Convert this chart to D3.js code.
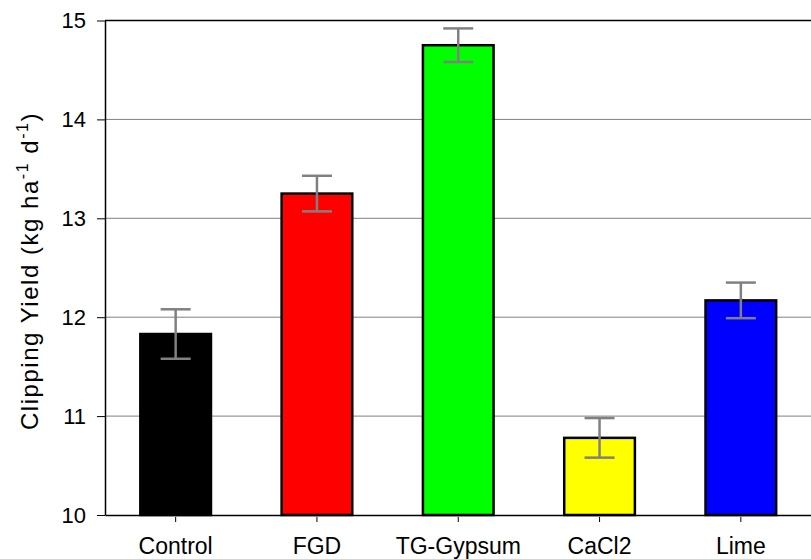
<!DOCTYPE html>
<html>
<head>
<meta charset="utf-8">
<script src="https://cdn.jsdelivr.net/npm/d3@7"></script>
<style>
  body { margin: 0; background: #fff; }
  svg text { font-family: "Liberation Sans", Arial, sans-serif; fill: #000; }
</style>
</head>
<body>
<svg id="chart" width="811" height="559"></svg>
<script>
const categories = ["Control", "FGD", "TG-Gypsum", "CaCl2", "Lime"];
const yields = [11.83, 13.25, 14.75, 10.78, 12.17];
const errors = [0.25, 0.18, 0.17, 0.20, 0.18];
const colors = ["#000000", "#ff0000", "#00ff00", "#ffff00", "#0000ff"];
const yTicks = [10, 11, 12, 13, 14, 15];

const svg = d3.select("#chart"),
      margin = {top: 20.5, right: -0.5, bottom: 44, left: 105},
      width = +svg.attr("width") - margin.left - margin.right,
      height = +svg.attr("height") - margin.top - margin.bottom,
      g = svg.append("g").attr("transform", "translate(" + margin.left + "," + margin.top + ")");

const x = d3.scaleBand().domain(categories).range([0, width]).paddingInner(0.5).paddingOuter(0.25),
      y = d3.scaleLinear().domain([10, 15]).range([height, 0]);

const data = categories.map((c, i) => ({name: c, value: yields[i], err: errors[i], color: colors[i]}));

// gridlines
g.append("g")
    .selectAll("line")
    .data(yTicks.slice(1, -1))
    .join("line")
    .attr("x1", 0).attr("x2", width + 5)
    .attr("y1", d => y(d)).attr("y2", d => y(d))
    .attr("stroke", "#808080")
    .attr("stroke-width", 1);

// top frame
g.append("line")
    .attr("x1", 0).attr("x2", width + 5)
    .attr("y1", 0).attr("y2", 0)
    .attr("stroke", "#000").attr("stroke-width", 1.5);

// bars
g.append("g")
    .selectAll("rect")
    .data(data)
    .join("rect")
    .attr("x", d => x(d.name))
    .attr("y", d => y(d.value))
    .attr("width", x.bandwidth())
    .attr("height", d => y(10) - y(d.value))
    .attr("fill", d => d.color)
    .attr("stroke", "#000")
    .attr("stroke-width", 2.5);

// error bars
const eb = g.append("g").attr("stroke", "#808080").attr("stroke-width", 2.5);
data.forEach(d => {
    const cx = x(d.name) + x.bandwidth() / 2;
    eb.append("line").attr("x1", cx).attr("x2", cx).attr("y1", y(d.value + d.err)).attr("y2", y(d.value - d.err));
    eb.append("line").attr("x1", cx - 15).attr("x2", cx + 15).attr("y1", y(d.value + d.err)).attr("y2", y(d.value + d.err));
    eb.append("line").attr("x1", cx - 15).attr("x2", cx + 15).attr("y1", y(d.value - d.err)).attr("y2", y(d.value - d.err));
});

// x axis
const xAxis = g.append("g")
    .attr("transform", "translate(0," + height + ")")
    .call(d3.axisBottom(x).tickSizeInner(7).tickSizeOuter(0).tickPadding(16));
xAxis.select(".domain").attr("stroke", "#000").attr("stroke-width", 1.5);
xAxis.selectAll(".tick line").attr("stroke", "#000").attr("y1", 2);
xAxis.selectAll(".tick text").attr("font-size", "23px").attr("font-family", "Liberation Sans, Arial, sans-serif");

// y axis
const yAxis = g.append("g")
    .call(d3.axisLeft(y).tickValues(yTicks).tickFormat(d3.format("d")).tickSizeInner(8).tickSizeOuter(0).tickPadding(11));
yAxis.select(".domain").attr("stroke", "#000").attr("stroke-width", 1.5);
yAxis.selectAll(".tick line").attr("stroke", "#000");
yAxis.selectAll(".tick text").attr("font-size", "22px").attr("font-family", "Liberation Sans, Arial, sans-serif");

// y title
const title = svg.append("text")
    .attr("transform", "translate(38,271) rotate(-90)")
    .attr("text-anchor", "middle")
    .attr("font-size", "24px");
title.append("tspan").text("Clipping Yield (kg ha");
title.append("tspan").attr("font-size", "16px").attr("dy", "-10").text("-1");
title.append("tspan").attr("dy", "10").text(" d");
title.append("tspan").attr("font-size", "16px").attr("dy", "-10").text("-1");
title.append("tspan").attr("dy", "10").text(")");
// stretch the title to the length seen in the original
const natural = title.node().getComputedTextLength();
const nChars = title.text().length;
title.attr("letter-spacing", Math.max(0, (318 - natural) / nChars) + "px");
</script>
</body>
</html>
